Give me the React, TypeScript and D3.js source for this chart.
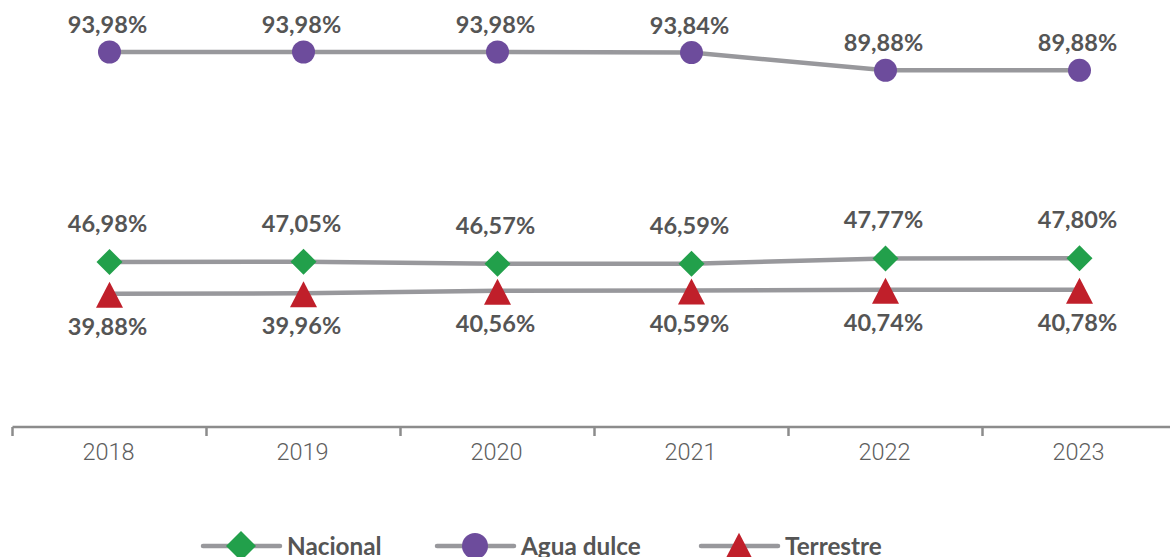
import React from "react";
import * as d3 from "d3";

const years = ["2018", "2019", "2020", "2021", "2022", "2023"];
const nacional = [46.98, 47.05, 46.57, 46.59, 47.77, 47.8];
const aguaDulce = [93.98, 93.98, 93.98, 93.84, 89.88, 89.88];
const terrestre = [39.88, 39.96, 40.56, 40.59, 40.74, 40.78];

const W = 1170;
const H = 557;
const LINE = "#98989c";
const LABEL = "#555555";
const PURPLE = "#6d4c9c";
const GREEN = "#22a04b";
const RED = "#c01f2a";

const fmt = (v: number) => v.toFixed(2).replace(".", ",") + "%";

const diamond = (s: number) => `M0,${-s}L${s},0L0,${s}L${-s},0Z`;
const triangle = (k: number) => `M0,${-12 * k}L${13.5 * k},${14 * k}L${-13.5 * k},${14 * k}Z`;

export default function App() {
  const x = d3.scaleBand<string>().domain(years).range([12.5, 12.5 + 6 * 194]);
  const y = d3.scaleLinear().domain([0, 100]).range([471.9, 25.1]);
  const cx = (d: string) => (x(d) as number) + x.bandwidth() / 2;
  const line = d3
    .line<number>()
    .x((_, i) => cx(years[i]))
    .y((v) => y(v));
  const axisY = 427;
  const ticks = d3.range(0, 7).map((i) => 12.5 + i * x.bandwidth());
  const labelFont = "Lato, 'Open Sans', sans-serif";
  const LFS = 23.5;

  return (
    <svg
      width={W}
      height={H}
      style={{ position: "absolute", left: 0, top: 0, background: "#fff" }}
    >
      {/* axis */}
      <line x1={12.5} x2={W} y1={axisY} y2={axisY} stroke="#8c8c8c" strokeWidth={2.5} />
      {ticks.map((t, i) => (
        <line key={i} x1={t} x2={t} y1={axisY} y2={axisY + 9} stroke="#8c8c8c" strokeWidth={2.5} />
      ))}
      {years.map((yr) => (
        <text
          key={yr}
          x={cx(yr) - 1}
          y={460}
          textAnchor="middle"
          fontFamily="Roboto, sans-serif"
          fontSize={23.5}
          fill="#5e5e5e"
          fontWeight={300}
        >
          {yr}
        </text>
      ))}

      {/* lines */}
      {[aguaDulce, nacional, terrestre].map((s, i) => (
        <path key={i} d={line(s) || ""} fill="none" stroke={LINE} strokeWidth={4.5} />
      ))}

      {/* Agua dulce */}
      {aguaDulce.map((v, i) => (
        <g key={"a" + i}>
          <circle cx={cx(years[i])} cy={y(v)} r={11.5} fill={PURPLE} />
          <text
            x={cx(years[i]) - 2}
            y={y(v) - 19}
            textAnchor="middle"
            fontFamily={labelFont}
            fontWeight={700}
            fontSize={LFS}
            fill={LABEL}
          >
            {fmt(v)}
          </text>
        </g>
      ))}
      {/* Nacional */}
      {nacional.map((v, i) => (
        <g key={"n" + i}>
          <path d={diamond(13)} transform={`translate(${cx(years[i])},${y(v)})`} fill={GREEN} />
          <text
            x={cx(years[i]) - 2}
            y={y(v) - 30}
            textAnchor="middle"
            fontFamily={labelFont}
            fontWeight={700}
            fontSize={LFS}
            fill={LABEL}
          >
            {fmt(v)}
          </text>
        </g>
      ))}
      {/* Terrestre */}
      {terrestre.map((v, i) => (
        <g key={"t" + i}>
          <path d={triangle(1)} transform={`translate(${cx(years[i])},${y(v)})`} fill={RED} />
          <text
            x={cx(years[i]) - 2}
            y={y(v) + 41}
            textAnchor="middle"
            fontFamily={labelFont}
            fontWeight={700}
            fontSize={LFS}
            fill={LABEL}
          >
            {fmt(v)}
          </text>
        </g>
      ))}

      {/* legend */}
      {[
        { name: "Nacional", x0: 203, color: GREEN, shape: "d" },
        { name: "Agua dulce", x0: 437, color: PURPLE, shape: "c" },
        { name: "Terrestre", x0: 701, color: RED, shape: "t" },
      ].map((it) => {
        const ly = 546;
        const mx = it.x0 + 38;
        return (
          <g key={it.name}>
            <line x1={it.x0} x2={it.x0 + 77} y1={ly} y2={ly} stroke={LINE} strokeWidth={4.5} strokeLinecap="round" />
            {it.shape === "d" && <path d={diamond(15)} transform={`translate(${mx},${ly})`} fill={it.color} />}
            {it.shape === "c" && <circle cx={mx} cy={ly} r={13} fill={it.color} />}
            {it.shape === "t" && <path d={triangle(1.1)} transform={`translate(${mx},${ly})`} fill={it.color} />}
            <text
              x={it.x0 + 84}
              y={555}
              fontFamily={labelFont}
              fontWeight={700}
              fontSize={24.3}
              fill={LABEL}
            >
              {it.name}
            </text>
          </g>
        );
      })}
    </svg>
  );
}
